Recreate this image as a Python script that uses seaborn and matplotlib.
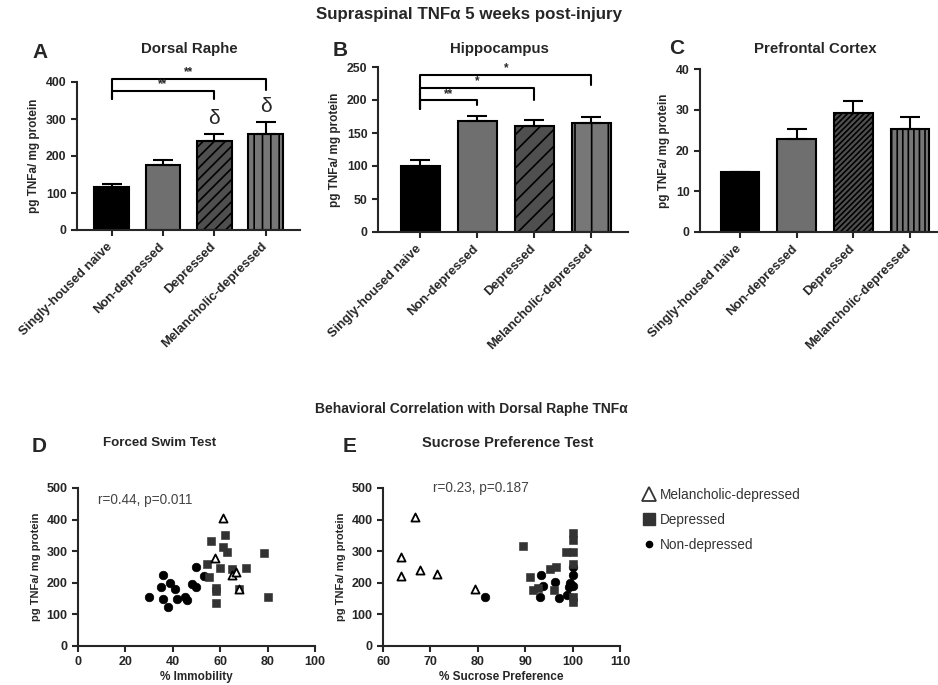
import matplotlib
matplotlib.use('Agg')
import matplotlib.pyplot as plt
import matplotlib.transforms as mtransforms
import seaborn as sns
import pandas as pd
from matplotlib.lines import Line2D

# groups shown in panels A-C
groups = ['Singly-housed naive', 'Non-depressed', 'Depressed', 'Melancholic-depressed']

# supraspinal TNFa, mean and SEM (pg TNFa / mg protein)
raphe_mean = [115, 177, 240, 259]
raphe_sem = [9, 12, 19, 34]
hippo_mean = [100, 168, 160, 165]
hippo_sem = [9, 8, 10, 9]
pfc_mean = [14.8, 22.8, 29.1, 25.2]
pfc_sem = [0, 2.4, 3.0, 3.1]

# forced swim test: % immobility vs dorsal raphe TNFa
fst_nd_x = [30, 36, 35, 36, 38, 39, 41, 41.6, 45, 46, 48, 49.8, 49.8, 53]
fst_nd_y = [156, 225, 187, 150, 124, 198, 180, 148, 156, 145, 195, 187, 251, 222]
fst_dep_x = [56, 62, 61, 63, 78.4, 54.4, 60, 55.1, 65, 71, 58.3, 58.3, 58.3, 80, 68]
fst_dep_y = [332, 351, 314, 296, 295, 258, 246, 217, 243, 248, 185, 173, 135, 154, 179]
fst_mel_x = [61, 58, 65, 66.8, 68]
fst_mel_y = [404, 279, 225, 235, 180]

# sucrose preference test: % sucrose preference vs dorsal raphe TNFa
spt_nd_x = [81.6, 93.3, 93.8, 93.1, 96.3, 97.2, 98.9, 100, 99.5, 99.2, 100, 100]
spt_nd_y = [154, 225, 190, 156, 204, 152, 161, 225, 198, 186, 190, 250]
spt_dep_x = [89.5, 91, 91.7, 92.8, 95.2, 96.5, 96.1, 98.6, 100, 100, 100, 100, 100, 100]
spt_dep_y = [316, 219, 177, 183, 243, 249, 177, 298, 298, 357, 335, 258, 156, 140]
spt_mel_x = [66.7, 63.7, 63.7, 67.8, 71.3, 79.4]
spt_mel_y = [407, 283, 222, 241, 228, 180]

sns.set_style('ticks')
plt.rcParams['font.family'] = ['Liberation Sans', 'DejaVu Sans']
plt.rcParams['font.weight'] = 'bold'
plt.rcParams['axes.linewidth'] = 1.5
plt.rcParams['hatch.linewidth'] = 1.2

W, H = 938, 685
fig = plt.figure(figsize=(W / 100, H / 100), dpi=100)


def px_axes(left, top, right, bottom):
    return fig.add_axes([left / W, 1 - bottom / H, (right - left) / W, (bottom - top) / H])


def ftext(x, y, s, **kw):
    fig.text(x / W, 1 - y / H, s, **kw)


bar_colors = ['#000000', '#6f6f6f', '#4f4f4f', '#777777']
shift_left = mtransforms.ScaledTranslation(-5 / 100, 0, fig.dpi_scale_trans)


def bar_panel(ax, means, sems, ymax, step, hatches, xlim):
    sns.barplot(x=groups, y=means, hue=groups, palette=bar_colors, legend=False,
                edgecolor='black', linewidth=1.5, width=0.68, errorbar=None, ax=ax)
    for patch, h in zip(ax.patches, hatches):
        if h:
            patch.set_hatch(h)
    ax.errorbar(range(len(means)), means, yerr=[[0] * len(sems), sems], fmt='none',
                ecolor='black', elinewidth=1.5, capsize=7, capthick=1.5, zorder=1)
    ax.set_ylim(0, ymax)
    ax.set_xlim(*xlim)
    ax.set_yticks(range(0, ymax + 1, step))
    ax.set_ylabel('pg TNFa/ mg protein', fontsize=8.5, fontweight='bold')
    ax.set_xlabel('')
    ax.tick_params(axis='both', width=1.5, length=4, labelsize=8.8)
    ax.set_xticks(range(len(groups)))
    ax.set_xticklabels(groups, rotation=45, ha='right', rotation_mode='anchor',
                       fontsize=9.4, fontweight='bold')
    for lab in ax.get_xticklabels():
        lab.set_transform(lab.get_transform() + shift_left)
    sns.despine(ax=ax)


def bracket(ax, x1, x2, y, low1, low2, label):
    ax.plot([x1, x1, x2, x2], [low1, y, y, low2], color='black', lw=1.5, clip_on=False)
    ax.text((x1 + x2) / 2, y + 1, label, ha='center', va='bottom', fontsize=8.5,
            fontweight='bold', clip_on=False)


# A - dorsal raphe
ax_a = px_axes(77, 82, 300, 230)
bar_panel(ax_a, raphe_mean, raphe_sem, 400, 100, [None, None, '///', '||'], (-0.675, 3.667))
bracket(ax_a, 0, 2, 376, 354, 354, '**')
bracket(ax_a, 0, 3, 409, 354, 379, '**')
ax_a.text(2, 302, 'δ', ha='center', va='center', fontsize=15, fontweight='normal')
ax_a.text(3, 334, 'δ', ha='center', va='center', fontsize=15, fontweight='normal')

# B - hippocampus
ax_b = px_axes(378, 67, 628, 232)
bar_panel(ax_b, hippo_mean, hippo_sem, 250, 50, [None, None, '//', '|'], (-0.74, 3.64))
bracket(ax_b, 0, 1, 199.5, 186, 192, '**')
bracket(ax_b, 0, 2, 218, 186, 200, '*')
bracket(ax_b, 0, 3, 238, 186, 222, '*')

# C - prefrontal cortex
ax_c = px_axes(700, 69, 938, 232)
bar_panel(ax_c, pfc_mean, pfc_sem, 40, 10, [None, None, '//////', '|||'], (-0.705, 3.49))

ftext(469, 15, 'Supraspinal TNFα 5 weeks post-injury', ha='center', va='center', fontsize=12.2)
ftext(189, 49, 'Dorsal Raphe', ha='center', va='center', fontsize=10.8)
ftext(499, 49, 'Hippocampus', ha='center', va='center', fontsize=10.8)
ftext(815, 49, 'Prefrontal Cortex', ha='center', va='center', fontsize=10.8)
ftext(32, 52, 'A', ha='left', va='center', fontsize=15)
ftext(333, 50, 'B', ha='left', va='center', fontsize=15)
ftext(669, 49, 'C', ha='left', va='center', fontsize=15)

# scatter panels
fst = pd.concat([
    pd.DataFrame({'x': fst_nd_x, 'y': fst_nd_y, 'group': 'Non-depressed'}),
    pd.DataFrame({'x': fst_dep_x, 'y': fst_dep_y, 'group': 'Depressed'}),
    pd.DataFrame({'x': fst_mel_x, 'y': fst_mel_y, 'group': 'Melancholic-depressed'}),
])
spt = pd.concat([
    pd.DataFrame({'x': spt_nd_x, 'y': spt_nd_y, 'group': 'Non-depressed'}),
    pd.DataFrame({'x': spt_dep_x, 'y': spt_dep_y, 'group': 'Depressed'}),
    pd.DataFrame({'x': spt_mel_x, 'y': spt_mel_y, 'group': 'Melancholic-depressed'}),
])

styles = {
    'Non-depressed': dict(marker='o', s=38, color='black', edgecolor='black'),
    'Depressed': dict(marker='s', s=28, color='#333333', edgecolor='#333333'),
    'Melancholic-depressed': dict(marker='^', s=34, color='white', edgecolor='black', linewidth=1.3),
}


def scatter_panel(ax, df, xlim, xstep, xlabel):
    for g in ['Non-depressed', 'Depressed', 'Melancholic-depressed']:
        sub = df[df['group'] == g]
        sns.scatterplot(data=sub, x='x', y='y', ax=ax, legend=False, clip_on=False, **styles[g])
    ax.set_xlim(*xlim)
    ax.set_ylim(0, 500)
    ax.set_xticks(range(xlim[0], xlim[1] + 1, xstep))
    ax.set_yticks(range(0, 501, 100))
    ax.set_xlabel(xlabel, fontsize=8.5, fontweight='bold', labelpad=2)
    ax.set_ylabel('pg TNFa/ mg protein', fontsize=8, fontweight='bold')
    ax.tick_params(axis='both', width=1.5, length=4, labelsize=9)
    sns.despine(ax=ax)


ax_d = px_axes(78, 488, 315, 646)
scatter_panel(ax_d, fst, (0, 100), 20, '% Immobility')
ax_d.text(8.3, 462, 'r=0.44, p=0.011', ha='left', va='center', fontsize=9.8,
          fontweight='normal', color='#444444')

ax_e = px_axes(383, 488, 620, 646)
scatter_panel(ax_e, spt, (60, 110), 10, '% Sucrose Preference')
ax_e.text(70.5, 500, 'r=0.23, p=0.187', ha='left', va='center', fontsize=9.8,
          fontweight='normal', color='#444444')

ftext(471, 409, 'Behavioral Correlation with Dorsal Raphe TNFα', ha='center', va='center', fontsize=10)
ftext(160, 443, 'Forced Swim Test', ha='center', va='center', fontsize=9.6)
ftext(508, 443, 'Sucrose Preference Test', ha='center', va='center', fontsize=10.5)
ftext(32, 447, 'D', ha='left', va='center', fontsize=15)
ftext(343, 447, 'E', ha='left', va='center', fontsize=15)

handles = [
    Line2D([], [], ls='none', marker='^', markersize=10, markerfacecolor='white',
           markeredgecolor='#333333', markeredgewidth=1.3),
    Line2D([], [], ls='none', marker='s', markersize=8, color='#333333'),
    Line2D([], [], ls='none', marker='o', markersize=4.5, color='black'),
]
leg = fig.legend(handles, ['Melancholic-depressed', 'Depressed', 'Non-depressed'],
                 loc='upper left', bbox_to_anchor=(631 / W, 1 - 476 / H), frameon=False,
                 handlelength=0.8, handletextpad=0.4, labelspacing=0.8,
                 prop={'size': 9.8, 'weight': 'normal'})
for t in leg.get_texts():
    t.set_color('#333333')

fig.savefig('out.png', dpi=100)
